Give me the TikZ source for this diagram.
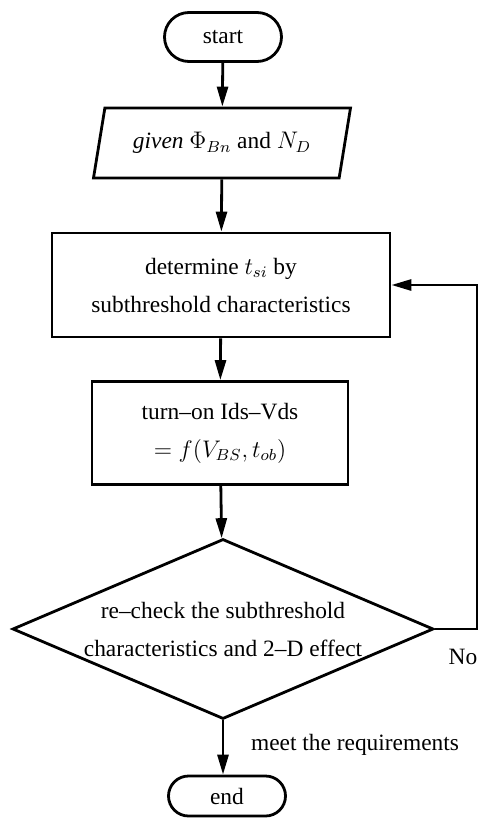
\documentclass[tikz,border=0pt]{standalone}
\usepackage{fontspec}
\setmainfont{Liberation Serif}
\usetikzlibrary{arrows.meta,shapes.geometric,shapes.misc}

\begin{document}
\begin{tikzpicture}[x=0.5pt,y=-0.5pt,
    line width=1.4pt,
    font=\fontsize{11.7}{19}\selectfont,
    flow/.style={-{Triangle[length=10pt,width=5.5pt]}},
    termbox/.style={draw,rounded rectangle,minimum width=58.5pt,minimum height=24.5pt,inner sep=0pt},
    iobox/.style={draw,trapezium,trapezium left angle=62,trapezium right angle=118,
      trapezium stretches body,minimum width=128.5pt,minimum height=35pt,inner sep=0pt},
    procbox/.style={draw,rectangle,align=center,inner sep=0pt},
    testbox/.style={draw,diamond,aspect=2.34,align=center,inner sep=0pt,
      minimum width=210.5pt,minimum height=90pt}]
  \useasboundingbox (0,0) rectangle (480,818);
  % blocks
  \node[termbox] (start) at (223,37) {start};
  \node[iobox] (given) at (222,143) {\textit{given} $\Phi_{Bn}$ and $N_D$};
  \node[procbox,minimum width=169pt,minimum height=52pt] (tsi) at (221,285)
    {determine $t_{si}$ by\\subthreshold characteristics};
  \node[procbox,minimum width=128pt,minimum height=51.5pt] (ids) at (220,433)
    {turn--on Ids--Vds\\$=f(V_{BS},t_{ob})$};
  \node[testbox] (check) at (223,629)
    {re--check the subthreshold\\characteristics and 2--D effect};
  \node[termbox,minimum height=20pt] (end) at (227,796) {end};
  % labels
  \node (no) at (463,657) {No};
  \node[anchor=west] (meet) at (243,745) {meet the requirements};
  % arrows
  \coordinate (back) at (477,629);
  \draw[flow] (start) -- (given);
  \draw[flow] (given) -- (tsi);
  \draw[flow] (tsi) -- (ids);
  \draw[flow] (ids) -- (check);
  \draw[flow] (check.south) -- (check.south |- end.north);
  \draw[flow] (check.east) -- (back) |- (tsi.east);
\end{tikzpicture}
\end{document}
